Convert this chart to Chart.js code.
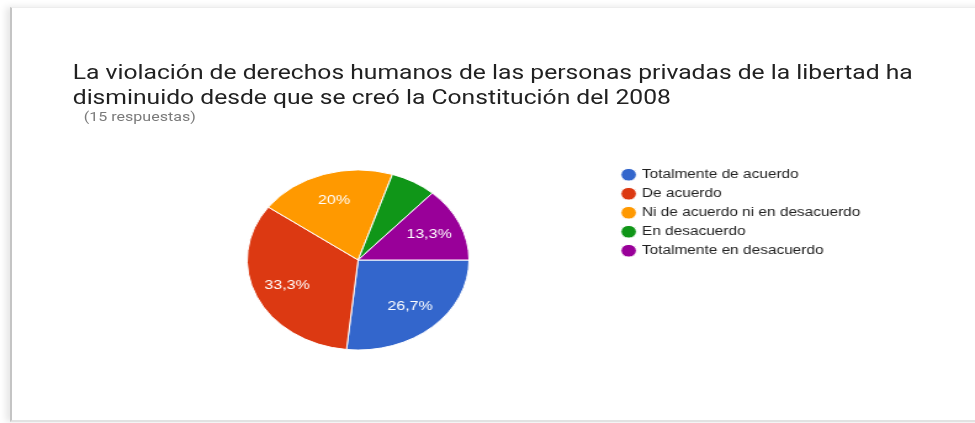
<!DOCTYPE html>
<html lang="es">
<head>
<meta charset="utf-8">
<title>Constitución 2008 - respuestas</title>
<script src="https://cdn.jsdelivr.net/npm/chart.js@4/dist/chart.umd.min.js"></script>
<style>
  html, body { margin: 0; padding: 0; background: #ffffff; }
  body { width: 975px; height: 423px; position: relative; overflow: hidden; }
  .card {
    position: absolute; left: 10px; top: 7px; width: 990px; height: 412px;
    border-left: 2px solid #c4c4c4; border-top: 1px solid #ededed; border-bottom: 2px solid #e2e2e2;
    box-shadow: -4px 0 7px rgba(0,0,0,0.10);
    background: #ffffff;
  }
  .stage {
    position: absolute; left: 0; top: 0; width: 791px; height: 423px;
    transform: scaleX(1.2326); transform-origin: 0 0;
  }
  .title {
    position: absolute; left: 59px; top: 60px;
    font-family: Roboto, "Liberation Sans", sans-serif; font-size: 20px; line-height: 25px;
    color: #212121; white-space: nowrap;
  }
  .sub {
    position: absolute; left: 68px; top: 109px;
    font-family: Roboto, "Liberation Sans", sans-serif; font-size: 13px; line-height: 16px;
    color: #7a7a7a; white-space: nowrap;
  }
  canvas { position: absolute; left: 0; top: 0; }
</style>
</head>
<body>
<div class="card"></div>
<div class="stage">
  <div class="title">La violación de derechos humanos de las personas privadas de la libertad ha<br>disminuido desde que se creó la Constitución del 2008</div>
  <div class="sub">(15 respuestas)</div>
  <canvas id="pie" width="791" height="423"></canvas>
</div>
<script>
// Answer options and how many people picked each one
const categories = [
  'Totalmente de acuerdo',
  'De acuerdo',
  'Ni de acuerdo ni en desacuerdo',
  'En desacuerdo',
  'Totalmente en desacuerdo'
];
const responses = [4, 5, 3, 1, 2];
const sliceColors = ['#3366cc', '#dc3912', '#ff9900', '#109618', '#990099'];

// Percent text written inside each slice (small slices stay unlabeled)
function percentText(v, total) {
  const p = Math.round(v / total * 1000) / 10;
  return (Number.isInteger(p) ? String(p) : p.toFixed(1).replace('.', ',')) + '%';
}

const sliceLabels = {
  id: 'sliceLabels',
  afterDatasetsDraw(chart) {
    const { ctx } = chart;
    const meta = chart.getDatasetMeta(0);
    const data = chart.data.datasets[0].data;
    const total = data.reduce((a, b) => a + b, 0);
    ctx.save();
    ctx.font = '13px "Liberation Sans", Arial, sans-serif';
    ctx.fillStyle = '#ffffff';
    ctx.textAlign = 'center';
    ctx.textBaseline = 'middle';
    meta.data.forEach((arc, i) => {
      if (data[i] / total < 0.1) return;
      const p = arc.getProps(['x', 'y', 'startAngle', 'endAngle', 'outerRadius'], true);
      const mid = (p.startAngle + p.endAngle) / 2;
      const r = p.outerRadius * 0.7;
      ctx.fillText(percentText(data[i], total), p.x + Math.cos(mid) * r, p.y + Math.sin(mid) * r);
    });
    ctx.restore();
  }
};

new Chart(document.getElementById('pie'), {
  type: 'pie',
  data: {
    labels: categories,
    datasets: [{
      data: responses,
      backgroundColor: sliceColors,
      borderColor: '#ffffff',
      borderWidth: 1,
      radius: 90
    }]
  },
  options: {
    responsive: false,
    animation: false,
    rotation: 90,
    layout: { padding: { left: 82, right: 83, top: 162, bottom: 65 } },
    plugins: {
      tooltip: { enabled: false },
      title: { display: false },
      legend: {
        position: 'right',
        align: 'start',
        labels: {
          usePointStyle: true,
          pointStyle: 'circle',
          boxWidth: 9,
          boxHeight: 9,
          padding: 6.5,
          color: '#222222',
          font: { family: '"Liberation Sans", Arial, sans-serif', size: 12.5 }
        }
      }
    }
  },
  plugins: [sliceLabels]
});
</script>
</body>
</html>
